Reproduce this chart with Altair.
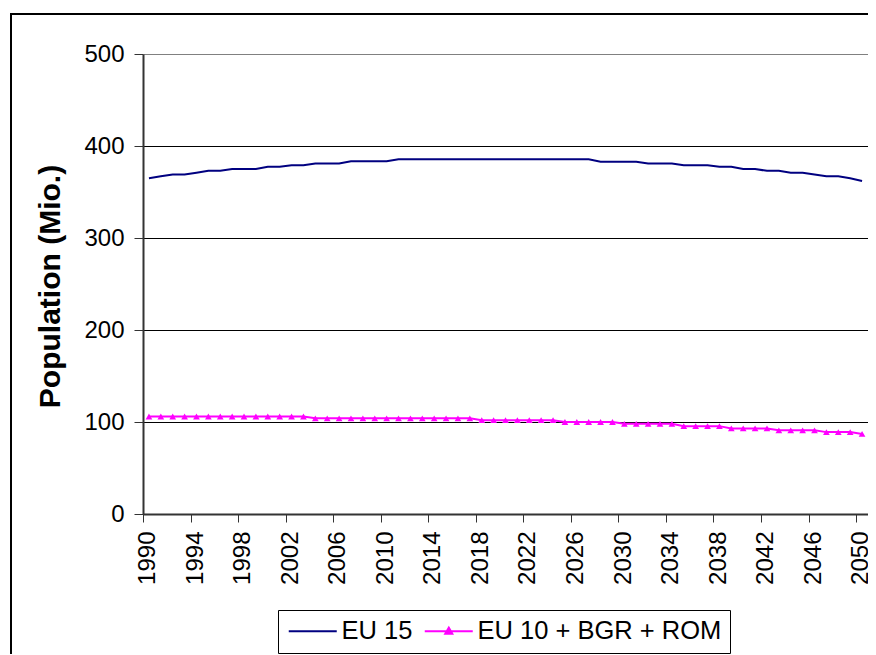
import altair as alt
import pandas as pd

years = list(range(1990, 2051))

eu15 = [365, 367, 369, 369, 371, 373, 373, 375, 375, 375,
        377.5, 377.5, 379, 379, 381, 381, 381, 383.5, 383.5, 383.5,
        383.5, 385.5, 385.5, 385.5, 385.5, 385.5, 385.5, 385.5, 385.5, 385.5,
        385.5, 385.5, 385.5, 385.5, 385.5, 385.5, 385.5, 385.5, 383, 383,
        383, 383, 381, 381, 381, 379, 379, 379, 377.5, 377.5,
        375, 375, 373, 373, 371, 371, 369, 367, 367, 365,
        362]

eu10 = [106, 106, 106, 106, 106, 106, 106, 106, 106, 106,
        106, 106, 106, 106, 104, 104, 104, 104, 104, 104,
        104, 104, 104, 104, 104, 104, 104, 104, 102, 102,
        102, 102, 102, 102, 102, 100, 100, 100, 100, 100,
        98, 98, 98, 98, 98, 95.5, 95.5, 95.5, 95.5, 93,
        93, 93, 93, 91, 91, 91, 91, 89, 89, 89,
        87]

series_names = ["EU 15", "EU 10 + BGR + ROM"]
series_colors = ["#000080", "#FF00FF"]
y_ticks = [0, 100, 200, 300, 400, 500]

df = pd.DataFrame({
    "year": years * 2,
    "value": eu15 + eu10,
    "series": [series_names[0]] * len(years) + [series_names[1]] * len(years),
})
df_pink = df[df["series"] == series_names[1]]

FONT = "Liberation Sans"

tick_positions = [y - 0.5 for y in years] + [years[-1] + 0.5]

x_enc = alt.X(
    "year:Q",
    scale=alt.Scale(domain=[years[0] - 0.5, years[-1] + 0.5], nice=False, zero=False),
    axis=alt.Axis(
        values=tick_positions,
        labelExpr="((datum.value + 0.5) - 1990) % 4 == 0 && datum.value < 2050 ? format(datum.value + 0.5, 'd') : ''",
        labelAngle=-90, labelAlign="right", labelBaseline="middle",
        labelOffset=4.6, labelOverlap=False, labelFlush=False, labelBound=False,
        labelFontSize=24, labelFont=FONT, labelColor="black", labelPadding=9,
        tickSize=8, tickColor="#333333", domainColor="#333333", domainWidth=2,
        grid=False, title=None,
    ),
)

y_enc = alt.Y(
    "value:Q",
    scale=alt.Scale(domain=[0, 500], nice=False),
    axis=alt.Axis(
        values=y_ticks, format="d",
        labelFontSize=24, labelFont=FONT, labelColor="black", labelPadding=10,
        tickSize=9, tickColor="#333333", domainColor="#333333", domainWidth=2,
        grid=True,
        gridColor={"condition": {"test": "datum.value == 500", "value": "#808080"}, "value": "black"},
        gridWidth=1,
        title="Population (Mio.)", titleFont=FONT, titleFontSize=30, titleFontWeight="bold",
        titleColor="black", titleAngle=-90, titleX=-93, titleY=232,
        titleAlign="center", titleBaseline="middle",
    ),
)

color_scale = alt.Scale(domain=series_names, range=series_colors)

legend_def = dict(
    title=None, orient="none", legendX=135, legendY=556,
    direction="horizontal", columns=2,
    symbolSize=100, symbolStrokeWidth=2, symbolOpacity=1,
    labelFontSize=25.5, labelFont=FONT, labelColor="black", labelOffset=30,
    labelLimit=0, columnPadding=7, padding=8, strokeColor="black",
)

border = alt.Chart(pd.DataFrame({"a": [0]})).mark_rect(
    fill=None, stroke="black", strokeWidth=2
).encode(
    x=alt.value(-132), x2=alt.value(780), y=alt.value(-40), y2=alt.value(700)
)

lines = alt.Chart(df).mark_line(strokeWidth=2).encode(
    x=x_enc, y=y_enc,
    stroke=alt.condition(alt.datum.series == series_names[0],
                         alt.value(series_colors[0]), alt.value(series_colors[1])),
    detail="series:N",
)

tri = alt.Chart(df_pink).mark_point(
    shape="triangle-up", filled=True, size=45, color="#FF00FF", opacity=1
).encode(x="year:Q", y="value:Q")

legend_layer = alt.Chart(df).mark_point(filled=False, opacity=0).encode(
    x="year:Q", y="value:Q",
    color=alt.Color("series:N", scale=color_scale, legend=alt.Legend(**legend_def)),
    shape=alt.Shape("series:N", scale=alt.Scale(
        domain=series_names,
        range=["M-2,0H7.6",
               "M-2,0H7.6M2.8,-0.7L3.5,0.5L2.1,0.5ZM2.8,-0.3L3.15,0.3L2.45,0.3Z"],
    ), legend=alt.Legend(**legend_def)),
)

chart = alt.layer(border, lines, tri, legend_layer).properties(
    width=725, height=460,
    autosize=alt.AutoSizeParams(type="none"),
    padding={"left": 135, "top": 46, "right": 0, "bottom": 140},
    background="white",
).configure_view(stroke="#808080", strokeWidth=2).configure(font=FONT)

chart.save("out.html", embed_options={"renderer": "svg", "actions": False})
